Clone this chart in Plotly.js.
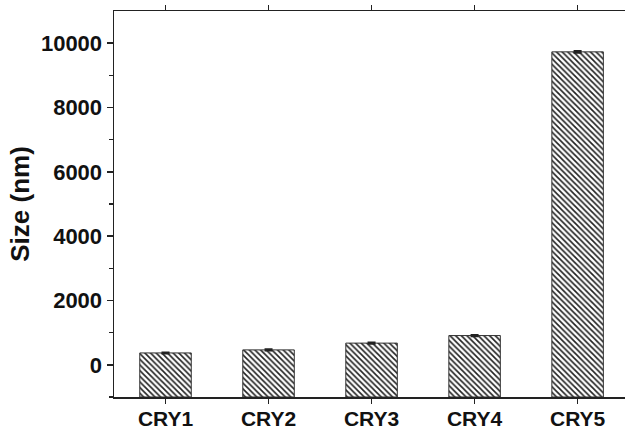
<!DOCTYPE html>
<html>
<head>
<meta charset="utf-8">
<script src="https://cdn.plot.ly/plotly-3.0.1.min.js"></script>
<style>html,body{margin:0;padding:0;background:#fff;}#chart{width:625px;height:432px;}</style>
</head>
<body>
<div id="chart"></div>
<script>
const categories = ["CRY1", "CRY2", "CRY3", "CRY4", "CRY5"];
const sizes = [370, 465, 675, 910, 9730];
const errors = [15, 18, 22, 20, 30];
const axisBase = -1000;

const trace = {
  type: "bar",
  x: categories,
  y: sizes.map(v => v - axisBase),
  base: categories.map(() => axisBase),
  width: 0.5,
  marker: {
    color: "#ffffff",
    line: {color: "#333333", width: 1},
    pattern: {shape: "\\", fgcolor: "#222222", bgcolor: "#ffffff", size: 4, solidity: 0.4}
  },
  error_y: {type: "data", array: errors, visible: true, color: "#222222", thickness: 2, width: 4},
  hoverinfo: "skip"
};

const font = {family: "Liberation Sans, Arial, sans-serif", size: 22, color: "#111111", weight: "bold"};
const xfont = {family: "Liberation Sans, Arial, sans-serif", size: 21, color: "#111111", weight: "bold"};

const layout = {
  width: 625, height: 432,
  margin: {l: 114, r: 0, t: 11, b: 35},
  paper_bgcolor: "#ffffff", plot_bgcolor: "#ffffff",
  showlegend: false,
  font: font,
  xaxis: {
    type: "category",
    range: [-0.5, 4.46],
    showline: true, linecolor: "#222222", linewidth: 1.5,
    mirror: "ticks",
    ticks: "outside", ticklen: 5, tickwidth: 1.5, tickcolor: "#222222",
    minor: {ticks: "outside", ticklen: 4, tickwidth: 1.5, tickcolor: "#222222"},
    showgrid: false, zeroline: false,
    tickfont: xfont,
    ticklabelstandoff: -3
  },
  yaxis: {
    range: [-1000, 11000],
    tickvals: [0, 2000, 4000, 6000, 8000, 10000],
    ticktext: ["0", "2000", "4000", "6000", "8000", "10000"],
    showline: true, linecolor: "#222222", linewidth: 1.5,
    ticks: "outside", ticklen: 6, tickwidth: 1.5, tickcolor: "#222222",
    minor: {tickvals: [-1000, 1000, 3000, 5000, 7000, 9000], ticks: "outside", ticklen: 4, tickwidth: 1.5, tickcolor: "#222222"},
    showgrid: false, zeroline: false,
    tickfont: font,
    title: {text: "Size (nm)", font: {family: "Liberation Sans, Arial, sans-serif", size: 26, color: "#111111", weight: "bold"}, standoff: 4}
  }
};

Plotly.newPlot("chart", [trace], layout, {displayModeBar: false, staticPlot: true});
</script>
</body>
</html>
